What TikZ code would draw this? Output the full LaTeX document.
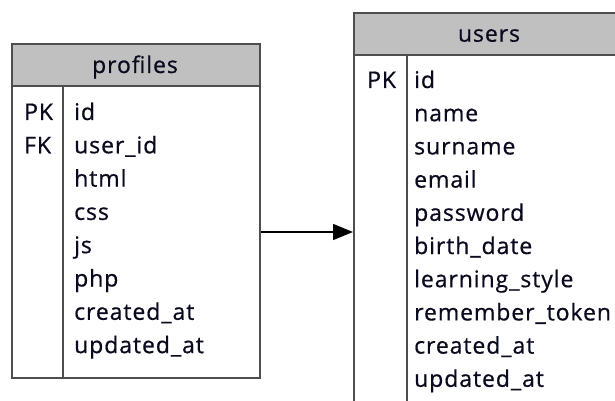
\documentclass[tikz,border=0pt]{standalone}
\usepackage{fontspec}
\setmainfont{Open Sans}[LetterSpace=4, BoldFont=Open Sans, BoldFeatures={FakeBold=0.6}]
\usetikzlibrary{arrows.meta}
\definecolor{frame}{RGB}{78,78,78}
\definecolor{headfill}{RGB}{192,192,192}
\definecolor{ink}{RGB}{10,10,30}
\tikzset{
  tablehead/.style={draw=frame, fill=headfill, line width=2pt, anchor=north west, inner sep=0pt},
  tablebody/.style={draw=frame, fill=white, line width=2pt, anchor=north west, inner sep=0pt},
  divider/.style={draw=frame, line width=2pt},
  field/.style={anchor=base west, inner sep=0pt, text=ink, font=\fontsize{23}{27}\selectfont\bfseries},
  title/.style={anchor=base, inner sep=0pt, text=ink, font=\fontsize{23}{27}\selectfont\bfseries},
  relation/.style={draw=black, line width=1.6pt, -{Triangle[length=20pt,width=16pt]}}
}
\begin{document}
\begin{tikzpicture}[x=1pt,y=-1pt]
\useasboundingbox (0,0) rectangle (615,401);
\clip (0,0) rectangle (615,401);

% profiles table
\node[tablehead, minimum width=248pt, minimum height=42pt] (phead) at (11,43) {};
\node[tablebody, minimum width=248pt, minimum height=292pt] (pbody) at (11,85) {};
\draw[divider] (63,85) -- (63,377);
\node[title] (ptitle) at (135,73) {profiles};
\node[field] (pk1) at (24,120) {PK};
\node[field] (fk1) at (24,153.3) {FK};
\foreach \t [count=\i from 0] in {id,user\_id,html,css,js,php,created\_at,updated\_at}
  \node[field] (pf\i) at (74,120+33.3*\i) {\t};

% users table
\node[tablehead, minimum width=290pt, minimum height=42pt] (uhead) at (353,12) {};
\node[tablebody, minimum width=290pt, minimum height=400pt] (ubody) at (353,54) {};
\draw[divider] (407,54) -- (407,460);
\node[title] (utitle) at (489,41.7) {users};
\node[field] (pk2) at (367,88) {PK};
\foreach \t [count=\i from 0] in {id,name,surname,email,password,birth\_date,learning\_style,remember\_token,created\_at,updated\_at}
  \node[field] (uf\i) at (414,88+33.2*\i) {\t};

% relation profiles -> users
\draw[relation] (pbody.east) -- (ubody.west |- pbody.east);
\end{tikzpicture}
\end{document}
